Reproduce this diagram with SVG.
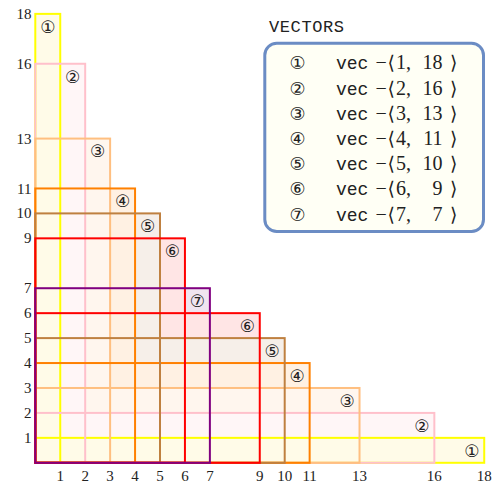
<svg xmlns="http://www.w3.org/2000/svg" width="493" height="485" viewBox="0 0 493 485">
<style>
.s{fill:none;stroke-width:2}
.ci{font-family:'DejaVu Serif','DejaVu Sans','Noto Sans CJK JP',serif;fill:#222;text-anchor:middle}
.rm{font-family:'Liberation Serif','DejaVu Serif',serif;fill:#222}
.tt{font-family:'Liberation Mono','DejaVu Sans Mono',monospace;fill:#222}
</style>
<g id="fills">
<rect x="35.3" y="288.22" width="174.58" height="174.58" fill="#f0e5f0"/>
<rect x="35.3" y="238.34" width="149.64" height="224.46" fill="#ffe5e5"/>
<rect x="35.3" y="313.16" width="224.46" height="149.64" fill="#ffe5e5"/>
<rect x="35.3" y="213.4" width="124.7" height="249.4" fill="#f6efe9"/>
<rect x="35.3" y="338.1" width="249.4" height="124.7" fill="#f6efe9"/>
<rect x="35.3" y="188.46" width="99.76" height="274.34" fill="#fff1e3"/>
<rect x="35.3" y="363.04" width="274.34" height="99.76" fill="#fff1e3"/>
<rect x="35.3" y="138.58" width="74.82" height="324.22" fill="#fff6ee"/>
<rect x="35.3" y="387.98" width="324.22" height="74.82" fill="#fff6ee"/>
<rect x="35.3" y="63.76" width="49.88" height="399.04" fill="#fff6f7"/>
<rect x="35.3" y="412.92" width="399.04" height="49.88" fill="#fff6f7"/>
<rect x="35.3" y="13.88" width="24.94" height="448.92" fill="#fffbe8"/>
<rect x="35.3" y="437.86" width="448.92" height="24.94" fill="#fffbe8"/>
</g>
<g id="rects">
<g id="v1">
<rect class="s" x="35.3" y="13.88" width="24.94" height="448.92" stroke="#ffff00"/>
<rect class="s" x="35.3" y="437.86" width="448.92" height="24.94" stroke="#ffff00"/>
</g>
<g id="v2">
<rect class="s" x="35.3" y="63.76" width="49.88" height="399.04" stroke="#ffc0cb"/>
<rect class="s" x="35.3" y="412.92" width="399.04" height="49.88" stroke="#ffc0cb"/>
</g>
<g id="v3">
<rect class="s" x="35.3" y="138.58" width="74.82" height="324.22" stroke="#ffbf80"/>
<rect class="s" x="35.3" y="387.98" width="324.22" height="74.82" stroke="#ffbf80"/>
</g>
<g id="v4">
<rect class="s" x="35.3" y="188.46" width="99.76" height="274.34" stroke="#ff8000"/>
<rect class="s" x="35.3" y="363.04" width="274.34" height="99.76" stroke="#ff8000"/>
</g>
<g id="v5">
<rect class="s" x="35.3" y="213.4" width="124.7" height="249.4" stroke="#bf8040"/>
<rect class="s" x="35.3" y="338.1" width="249.4" height="124.7" stroke="#bf8040"/>
</g>
<g id="v6">
<rect class="s" x="35.3" y="238.34" width="149.64" height="224.46" stroke="#ff0000"/>
<rect class="s" x="35.3" y="313.16" width="224.46" height="149.64" stroke="#ff0000"/>
</g>
<g id="v7">
<rect class="s" x="35.3" y="288.22" width="174.58" height="174.58" stroke="#800080" stroke-width="2.5"/>
</g>
</g>
<g id="labels" class="ci" font-size="17">
<text x="47.77" y="32.6">①</text>
<text x="471.75" y="456.6">①</text>
<text x="72.71" y="82.5">②</text>
<text x="421.87" y="431.7">②</text>
<text x="97.65" y="157.3">③</text>
<text x="347.05" y="406.7">③</text>
<text x="122.59" y="207.2">④</text>
<text x="297.17" y="381.8">④</text>
<text x="147.53" y="232.1">⑤</text>
<text x="272.23" y="356.8">⑤</text>
<text x="172.47" y="257.1">⑥</text>
<text x="247.29" y="331.9">⑥</text>
<text x="197.41" y="307">⑦</text>
</g>
<g id="axes" class="rm" font-size="15">
<g text-anchor="end">
<text x="31.5" y="442.9">1</text>
<text x="31.5" y="417.9">2</text>
<text x="31.5" y="393">3</text>
<text x="31.5" y="368">4</text>
<text x="31.5" y="343.1">5</text>
<text x="31.5" y="318.2">6</text>
<text x="31.5" y="293.2">7</text>
<text x="31.5" y="243.3">9</text>
<text x="31.5" y="218.4">10</text>
<text x="31.5" y="193.5">11</text>
<text x="31.5" y="143.6">13</text>
<text x="31.5" y="68.8">16</text>
<text x="31.5" y="19.4">18</text>
</g>
<g text-anchor="middle">
<text x="60.24" y="481">1</text>
<text x="85.18" y="481">2</text>
<text x="110.12" y="481">3</text>
<text x="135.06" y="481">4</text>
<text x="160" y="481">5</text>
<text x="184.94" y="481">6</text>
<text x="209.88" y="481">7</text>
<text x="259.76" y="481">9</text>
<text x="284.7" y="481">10</text>
<text x="309.64" y="481">11</text>
<text x="359.52" y="481">13</text>
<text x="434.34" y="481">16</text>
<text x="484.22" y="481">18</text>
</g>
</g>
<g id="legend">
<text class="tt" x="269" y="31.7" font-size="17" textLength="75" lengthAdjust="spacing">VECTORS</text>
<rect x="264.8" y="43.2" width="218.7" height="188.3" rx="12" fill="#fffff5" stroke="#6b8cc4" stroke-width="3"/>
<g class="ci" font-size="18">
<text x="297.5" y="69.3">①</text>
<text x="297.5" y="94.5">②</text>
<text x="297.5" y="119.7">③</text>
<text x="297.5" y="144.9">④</text>
<text x="297.5" y="170.1">⑤</text>
<text x="297.5" y="195.3">⑥</text>
<text x="297.5" y="220.5">⑦</text>
</g>
<g class="tt" font-size="18">
<text x="336" y="69.3">vec</text>
<text x="336" y="94.5">vec</text>
<text x="336" y="119.7">vec</text>
<text x="336" y="144.9">vec</text>
<text x="336" y="170.1">vec</text>
<text x="336" y="195.3">vec</text>
<text x="336" y="220.5">vec</text>
</g>
<g class="rm" font-size="20">
<text x="375.5" y="69.3">−</text><text x="375.5" y="94.5">−</text><text x="375.5" y="119.7">−</text><text x="375.5" y="144.9">−</text><text x="375.5" y="170.1">−</text><text x="375.5" y="195.3">−</text><text x="375.5" y="220.5">−</text>
</g>
<g font-family="'DejaVu Serif',serif" fill="#222" font-size="19">
<text x="387.5" y="69.3">⟨</text><text x="387.5" y="94.5">⟨</text><text x="387.5" y="119.7">⟨</text><text x="387.5" y="144.9">⟨</text><text x="387.5" y="170.1">⟨</text><text x="387.5" y="195.3">⟨</text><text x="387.5" y="220.5">⟨</text>
<text x="450" y="69.3">⟩</text><text x="450" y="94.5">⟩</text><text x="450" y="119.7">⟩</text><text x="450" y="144.9">⟩</text><text x="450" y="170.1">⟩</text><text x="450" y="195.3">⟩</text><text x="450" y="220.5">⟩</text>
</g>
<g class="rm" font-size="20">
<text x="396" y="69.3">1,</text>
<text x="396" y="94.5">2,</text>
<text x="396" y="119.7">3,</text>
<text x="396" y="144.9">4,</text>
<text x="396" y="170.1">5,</text>
<text x="396" y="195.3">6,</text>
<text x="396" y="220.5">7,</text>
</g>
<g class="rm" font-size="20" text-anchor="end">
<text x="442.5" y="69.3">18</text>
<text x="442.5" y="94.5">16</text>
<text x="442.5" y="119.7">13</text>
<text x="442.5" y="144.9">11</text>
<text x="442.5" y="170.1">10</text>
<text x="442.5" y="195.3">9</text>
<text x="442.5" y="220.5">7</text>
</g>
</g>
</svg>
